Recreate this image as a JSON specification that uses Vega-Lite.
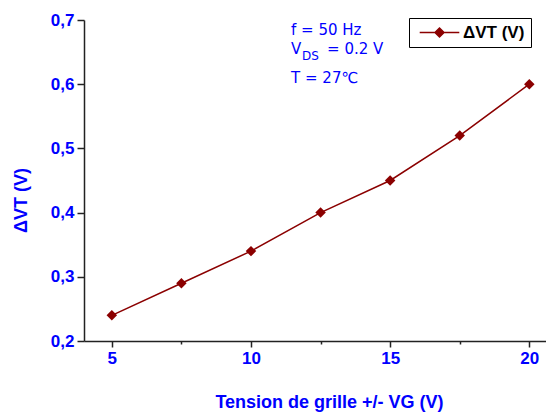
{
  "$schema": "https://vega.github.io/schema/vega-lite/v6.json",
  "width": 462,
  "height": 321,
  "autosize": {"type": "none"},
  "padding": {"left": 84, "top": 20, "right": 0, "bottom": 73},
  "background": "white",
  "config": {"view": {"stroke": null}, "font": "Liberation Sans"},
  "datasets": {
    "dvt": [
      {"vg": 5, "dvt": 0.24},
      {"vg": 7.5, "dvt": 0.29},
      {"vg": 10, "dvt": 0.34},
      {"vg": 12.5, "dvt": 0.40},
      {"vg": 15, "dvt": 0.45},
      {"vg": 17.5, "dvt": 0.52},
      {"vg": 20, "dvt": 0.60}
    ],
    "notes": [
      {"label": "f = 50 Hz", "vg": 11.44, "dvt": 0.677},
      {"label": "V", "vg": 11.44, "dvt": 0.647},
      {"label": "T = 27℃", "vg": 11.44, "dvt": 0.602}
    ],
    "sub": [{"label": "DS", "vg": 11.44, "dvt": 0.647}],
    "rest": [{"label": "= 0.2 V", "vg": 11.44, "dvt": 0.647}]
  },
  "layer": [
    {
      "data": {"name": "dvt"},
      "mark": {"type": "line", "strokeWidth": 1.5},
      "encoding": {
        "x": {
          "field": "vg", "type": "quantitative",
          "scale": {"domain": [4, 20.6], "nice": false, "zero": false},
          "axis": {
            "values": [5, 7.5, 10, 12.5, 15, 17.5, 20],
            "labelExpr": "datum.value % 5 === 0 ? datum.label : ''",
            "tickSize": {"condition": {"test": "datum.value % 5 === 0", "value": 6}, "value": 3},
            "tickColor": "#222", "tickWidth": 1.5,
            "domainColor": "#222", "domainWidth": 1.5,
            "grid": false,
            "labelFont": "Liberation Sans", "labelFontWeight": "bold", "labelFontSize": 17, "labelColor": "#0000ff",
            "labelPadding": 3,
            "title": "Tension de grille +/- VG (V)",
            "titleFont": "Liberation Sans", "titleFontWeight": "bold", "titleFontSize": 18, "titleColor": "#0000ff",
            "titleX": 245, "titleY": 66, "titleBaseline": "alphabetic"
          }
        },
        "y": {
          "field": "dvt", "type": "quantitative",
          "scale": {"domain": [0.2, 0.7], "nice": false, "zero": false},
          "axis": {
            "values": [0.2, 0.25, 0.3, 0.35, 0.4, 0.45, 0.5, 0.55, 0.6, 0.65, 0.7],
            "labelExpr": "abs(datum.value*10 - round(datum.value*10)) < 0.001 ? replace(format(datum.value, '.1f'), '.', ',') : ''",
            "tickSize": {"condition": {"test": "abs(datum.value*10 - round(datum.value*10)) < 0.001", "value": 7}, "value": 3},
            "tickColor": "#222", "tickWidth": 1.5,
            "domainColor": "#222", "domainWidth": 1.5,
            "grid": false,
            "labelFont": "Liberation Sans", "labelFontWeight": "bold", "labelFontSize": 17, "labelColor": "#0000ff",
            "labelPadding": 3,
            "title": "ΔVT (V)",
            "titleFont": "Liberation Sans", "titleFontWeight": "bold", "titleFontSize": 18, "titleColor": "#0000ff",
            "titleX": -58, "titleY": 180, "titleBaseline": "alphabetic", "titleAngle": 270
          }
        },
        "color": {
          "datum": "ΔVT (V)",
          "scale": {"range": ["#8b0000"]},
          "legend": {
            "orient": "none", "legendX": 325, "legendY": -2,
            "title": null,
            "symbolType": "M-4.4,0H4.4M0,-1L1,0L0,1L-1,0Z",
            "symbolSize": 81,
            "symbolStrokeWidth": 1.5,
            "symbolFillColor": "#8b0000",
            "symbolStrokeColor": "#8b0000",
            "symbolOffset": 16,
            "labelOffset": 15,
            "labelFont": "Liberation Sans", "labelFontWeight": "bold", "labelFontSize": 17, "labelColor": "black",
            "strokeColor": "black", "fillColor": "white", "padding": 6
          }
        }
      }
    },
    {
      "data": {"name": "dvt"},
      "mark": {"type": "point", "shape": "diamond", "filled": true, "size": 110, "color": "#8b0000", "opacity": 1},
      "encoding": {
        "x": {"field": "vg", "type": "quantitative"},
        "y": {"field": "dvt", "type": "quantitative"}
      }
    },
    {
      "data": {"name": "notes"},
      "mark": {"type": "text", "align": "left", "baseline": "alphabetic", "font": "DejaVu Sans", "fontSize": 15, "color": "#0000ff"},
      "encoding": {
        "x": {"field": "vg", "type": "quantitative"},
        "y": {"field": "dvt", "type": "quantitative"},
        "text": {"field": "label"}
      }
    },
    {
      "data": {"name": "sub"},
      "mark": {"type": "text", "align": "left", "baseline": "alphabetic", "font": "DejaVu Sans", "fontSize": 12, "color": "#0000ff", "dx": 11, "dy": 6},
      "encoding": {
        "x": {"field": "vg", "type": "quantitative"},
        "y": {"field": "dvt", "type": "quantitative"},
        "text": {"field": "label"}
      }
    },
    {
      "data": {"name": "rest"},
      "mark": {"type": "text", "align": "left", "baseline": "alphabetic", "font": "DejaVu Sans", "fontSize": 15, "color": "#0000ff", "dx": 36},
      "encoding": {
        "x": {"field": "vg", "type": "quantitative"},
        "y": {"field": "dvt", "type": "quantitative"},
        "text": {"field": "label"}
      }
    }
  ]
}
